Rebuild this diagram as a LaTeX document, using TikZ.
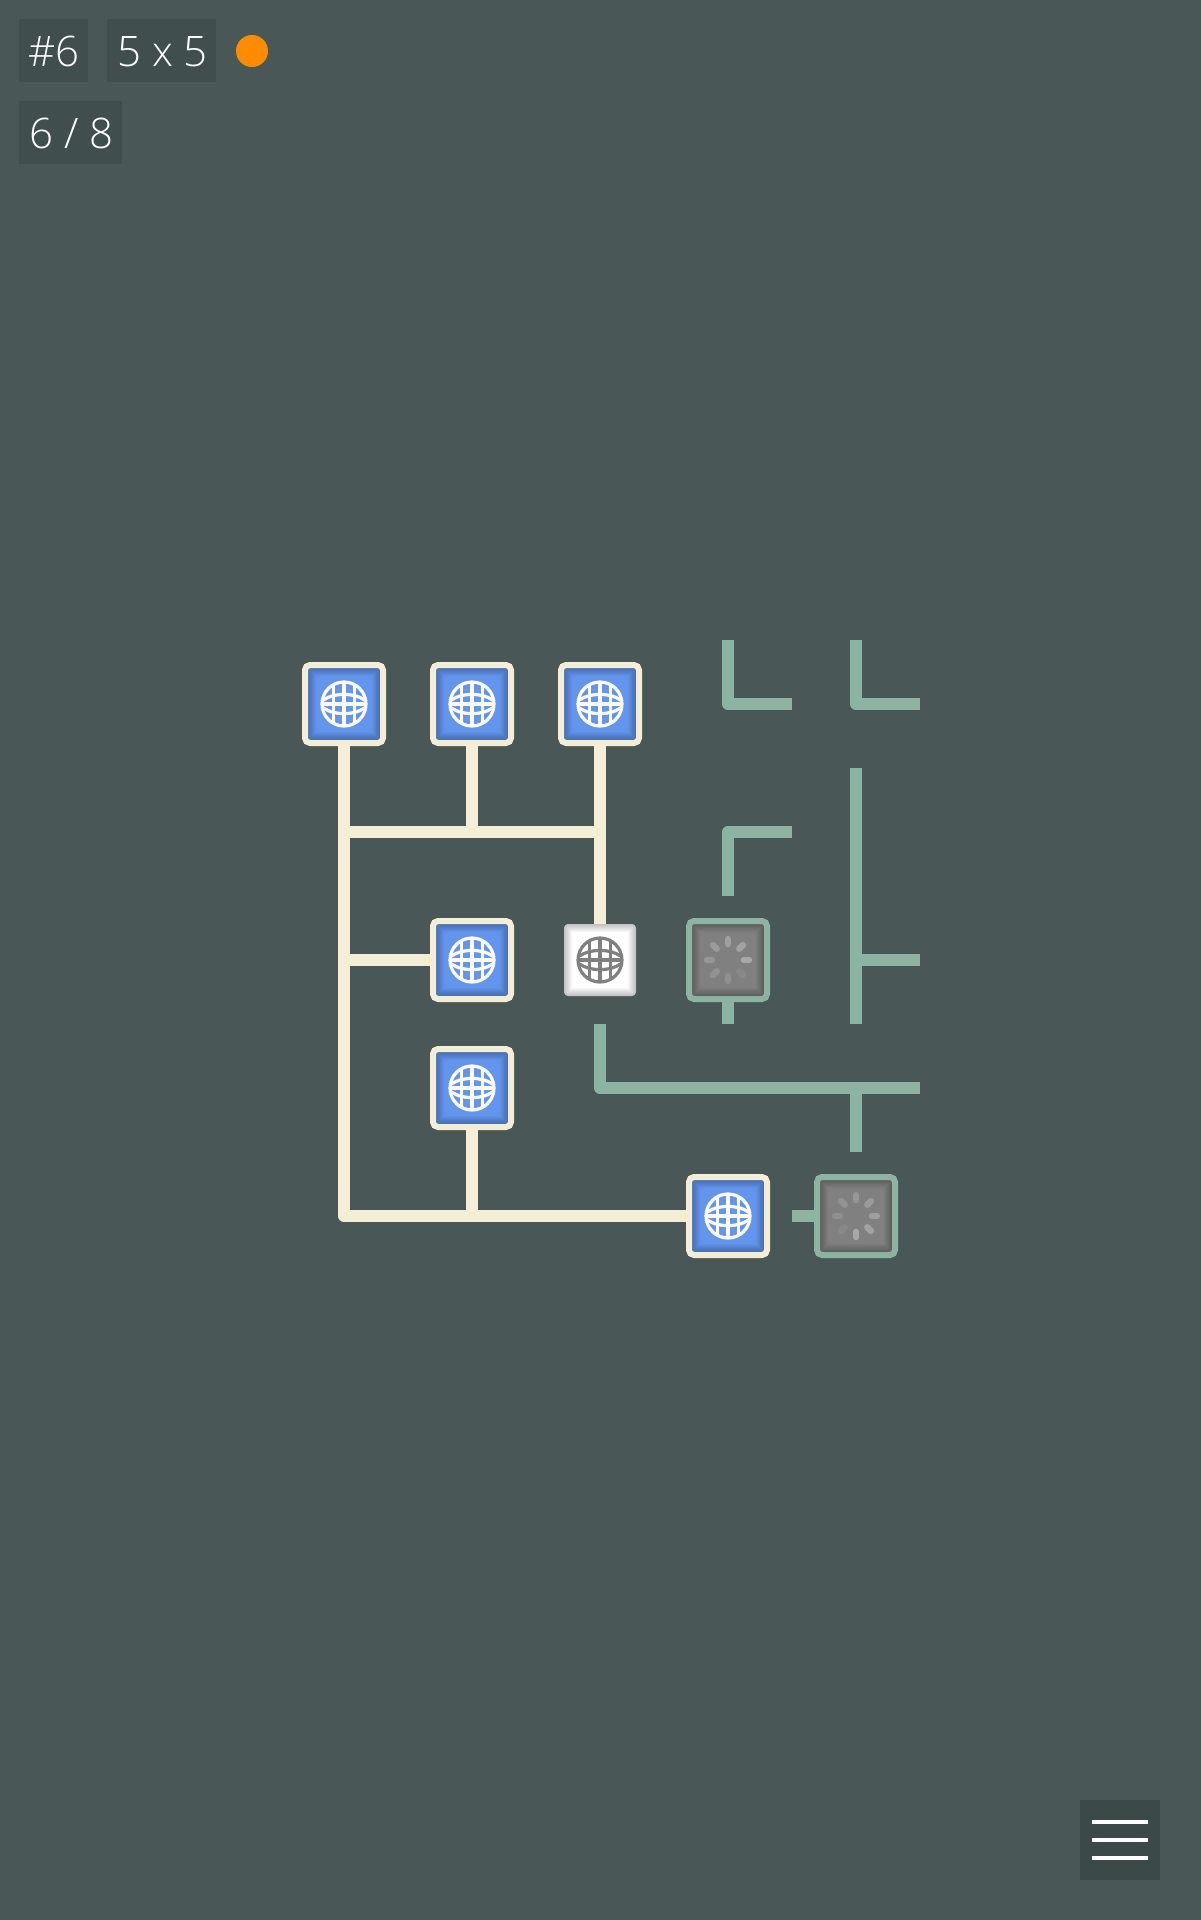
\documentclass[tikz,border=0pt]{standalone}
\usepackage{fontspec}
\setmainfont{Open Sans Light}
\usetikzlibrary{backgrounds}
\definecolor{bgcol}{HTML}{4A5757}
\definecolor{boxcol}{HTML}{404E4E}
\definecolor{menucol}{HTML}{3C4949}
\definecolor{cream}{HTML}{F5EED6}
\definecolor{teal}{HTML}{8DB3A3}
\definecolor{tileblue}{HTML}{6495ED}
\definecolor{tilegray}{HTML}{808080}
\definecolor{dot}{HTML}{FF8C00}
\newcommand{\insetshadow}[1]{%
  \foreach \w in {#1}{%
    \draw[line width=\w pt,draw=black,opacity=0.03]
      (path picture bounding box.south west) rectangle (path picture bounding box.north east);
  }%
}
\tikzset{
  wire/.style={line width=12pt,line join=round,line cap=butt},
  live/.style={wire,draw=cream},
  idle/.style={wire,draw=teal},
  tile/.style={rectangle,rounded corners=5pt,minimum size=78pt,inner sep=0pt,line width=6pt},
  webtile/.style={tile,draw=cream,fill=tileblue,path picture={\insetshadow{8,10,12,14,16,18,20,22}}},
  spintile/.style={tile,draw=teal,fill=tilegray,path picture={\insetshadow{8,10,12,14,16,18,20,22}}},
  whitetile/.style={rectangle,rounded corners=4pt,minimum size=72pt,inner sep=0pt,fill=white,path picture={\insetshadow{2,4,6,8,10,12,14,16}}},
  hud/.style={rectangle,fill=boxcol,text=white,inner sep=0pt,font=\fontsize{42}{50}\selectfont,text height=32pt,text depth=0pt,align=center},
  spoke/.style={line width=6.5pt,line cap=round,draw=white}
}
% globe glyph drawn at a node centre
\newcommand{\globe}[2]{%
  \begin{scope}[shift={(#1.center)},draw=#2,line width=3.2pt]
    \draw (0,0) circle[radius=22];
    \draw (-10.5,-19.5) -- (-10.5,19.5);
    \draw (0,-22) -- (0,22);
    \draw (10.5,-19.5) -- (10.5,19.5);
    \draw (-22,0) -- (22,0);
    \draw (-20.5,-4) .. controls (-10,-11.5) and (10,-11.5) .. (20.5,-4);
    \draw (-20.5,4) .. controls (-10,11.5) and (10,11.5) .. (20.5,4);
  \end{scope}%
}
% spinner: #1 node, #2 angle of the brightest spoke (y axis points down)
\newcommand{\spinner}[2]{%
  \begin{scope}[shift={(#1.center)}]
    \foreach \k/\o in {0/0.32,1/0.27,2/0.24,3/0.21,4/0.18,5/0.15,6/0.12,7/0.07}{%
      \pgfmathsetmacro{\a}{#2-45*\k}
      \draw[spoke,opacity=\o] (\a:16) -- (\a:21);
    }
  \end{scope}%
}
\begin{document}
\begin{tikzpicture}[x=1pt,y=-1pt]
\useasboundingbox (0,0) rectangle (1200,1920);

% status boxes
\node[hud,minimum width=69pt,minimum height=63pt] (level) at (53.5,50.5) {\hspace*{1pt}\#6};
\node[hud,minimum width=109pt,minimum height=63pt] (size) at (161.5,50.5) {\hspace*{2pt}5 x 5};
\node[circle,fill=dot,minimum size=32pt,inner sep=0pt] (status) at (252,51) {};
\node[hud,minimum width=103pt,minimum height=63pt] (count) at (70.5,132.5) {\hspace*{2pt}6 / 8};

% menu
\node[rectangle,fill=menucol,minimum size=80pt,inner sep=0pt] (menu) at (1120,1840) {};
\fill[white] (1092,1820) rectangle (1148,1824);
\fill[white] (1092,1838) rectangle (1148,1842);
\fill[white] (1092,1856) rectangle (1148,1860);

% tiles
\node[webtile] (n11) at (344,704) {};
\node[webtile] (n12) at (472,704) {};
\node[webtile] (n13) at (600,704) {};
\node[webtile] (n32) at (472,960) {};
\node[whitetile] (n33) at (600,960) {};
\node[spintile] (n34) at (728,960) {};
\node[webtile] (n42) at (472,1088) {};
\node[webtile] (n54) at (728,1216) {};
\node[spintile] (n55) at (856,1216) {};

\globe{n11}{white}
\globe{n12}{white}
\globe{n13}{white}
\globe{n32}{white}
\globe{n33}{tilegray}
\globe{n42}{white}
\globe{n54}{white}
\spinner{n34}{0}
\spinner{n55}{90}

% junctions and free ends
\coordinate (j21) at (344,832);
\coordinate (j22) at (472,832);
\coordinate (j23) at (600,832);
\coordinate (j31) at (344,960);
\coordinate (j51) at (344,1216);
\coordinate (j52) at (472,1216);

\coordinate (a1) at (728,640);
\coordinate (a2) at (728,704);
\coordinate (a3) at (792,704);
\coordinate (b1) at (856,640);
\coordinate (b2) at (856,704);
\coordinate (b3) at (920,704);
\coordinate (c1) at (792,832);
\coordinate (c2) at (728,832);
\coordinate (c3) at (728,896);
\coordinate (d1) at (856,768);
\coordinate (d2) at (856,960);
\coordinate (d3) at (856,1024);
\coordinate (d4) at (920,960);
\coordinate (e1) at (728,1024);
\coordinate (f1) at (600,1024);
\coordinate (f2) at (600,1088);
\coordinate (f3) at (856,1088);
\coordinate (f4) at (920,1088);
\coordinate (f5) at (856,1152);
\coordinate (g1) at (792,1216);

\begin{scope}[on background layer]
  \fill[bgcol] (-5,-5) rectangle (1205,1925);
  % idle network
  \draw[idle] (a1) -- (a2) -- (a3);
  \draw[idle] (b1) -- (b2) -- (b3);
  \draw[idle] (c1) -- (c2) -- (c3);
  \draw[idle] (d1) -- (d3);
  \draw[idle] (d2) -- (d4);
  \draw[idle] (n34.center) -- (e1);
  \draw[idle] (f1) -- (f2) -- (f4);
  \draw[idle] (f3) -- (f5);
  \draw[idle] (g1) -- (n55.center);
  % live network
  \draw[live] (n11.center) -- (j51) -- (n54.center);
  \draw[live] (n12.center) -- (j22);
  \draw[live] (n13.center) -- (n33.center);
  \draw[live] (j21) -- (j23);
  \draw[live] (j31) -- (n32.center);
  \draw[live] (n42.center) -- (j52);
\end{scope}
\end{tikzpicture}
\end{document}
